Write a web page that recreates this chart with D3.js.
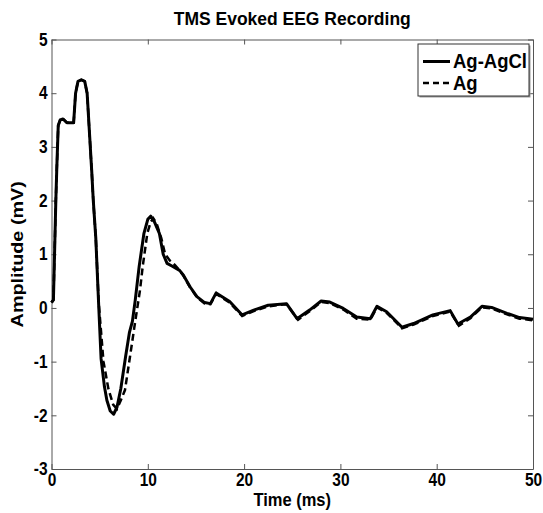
<!DOCTYPE html>
<html>
<head>
    <meta charset="utf-8">
    <title>TMS Evoked EEG Recording</title>
    <script src="https://d3js.org/d3.v7.min.js"></script>
    <style>
        body { margin: 0; background: #fff; }
        text { font-family: Arial, "Liberation Sans", sans-serif; font-weight: bold; }
        .axis path, .axis line { stroke: #555; }
        .axis text { font-size: 15.5px; fill: #000; }
    </style>
</head>
<body>
    <div id="container"></div>

    <script>
        // Ag-AgCl electrode (solid)
        var agAgClTime = [0, 0.2, 0.45, 0.55, 0.7, 0.9, 1.2, 1.6, 2.0, 2.3, 2.5, 2.75, 3.1, 3.45, 3.7, 4.17, 4.34, 4.6, 4.9,
            5.15, 5.5, 5.75, 6.1, 6.45, 6.8, 7.2, 7.7, 8.1, 8.4, 8.7, 9.1, 9.6, 10.0, 10.3, 10.7, 11.2, 11.6, 12.0, 12.5,
            13.3, 13.7, 14.4, 15.1, 15.9, 16.5, 17.1, 17.8, 18.5, 19.8, 21.0, 22.5, 24.4, 25.5, 26.8, 28.0, 28.9, 30.3,
            31.7, 33.1, 33.8, 34.8, 36.4, 37.6, 39.6, 41.4, 42.2, 43.5, 44.7, 45.7, 47.3, 48.6, 50];
        var agAgClAmp = [0.1, 0.15, 2.0, 2.6, 3.4, 3.5, 3.52, 3.45, 3.45, 3.45, 4.0, 4.22, 4.25, 4.22, 4.0, 2.57, 2.0, 1.3, 0.05,
            -0.95, -1.47, -1.72, -1.92, -1.98, -1.85, -1.5, -0.9, -0.45, -0.25, 0.15, 0.77, 1.39, 1.65, 1.71, 1.6, 1.39, 1.0, 0.83, 0.78,
            0.7, 0.61, 0.39, 0.21, 0.1, 0.08, 0.28, 0.2, 0.12, -0.13, -0.04, 0.05, 0.08, -0.2, -0.04, 0.13, 0.11, -0.01,
            -0.17, -0.2, 0.03, -0.07, -0.36, -0.29, -0.13, -0.05, -0.3, -0.17, 0.03, 0.01, -0.1, -0.18, -0.21];

        // Ag electrode (dashed)
        var agTime = [0, 0.2, 0.45, 0.55, 0.7, 0.9, 1.2, 1.6, 2.0, 2.3, 2.5, 2.75, 3.1, 3.45, 3.7, 4.17, 4.34, 4.6, 4.9,
            5.4, 5.9, 6.4, 6.8, 7.2, 7.63, 8.15, 8.67, 9.19, 9.47, 9.95, 10.3, 10.57, 10.9, 11.4, 11.8, 12.3, 12.8,
            13.3, 13.7, 14.4, 15.1, 15.9, 16.5, 17.1, 17.8, 18.5, 19.8, 21.0, 22.5, 24.4, 25.6, 26.8, 28.0, 28.9, 30.3,
            31.7, 33.1, 33.8, 34.8, 36.4, 37.6, 39.6, 41.4, 42.3, 43.5, 44.7, 45.7, 47.3, 48.6, 50];
        var agAmp = [0.1, 0.15, 2.0, 2.6, 3.4, 3.5, 3.52, 3.45, 3.45, 3.45, 4.0, 4.22, 4.25, 4.22, 4.0, 2.57, 2.0, 1.3, 0.1,
            -1.0, -1.5, -1.8, -1.88, -1.72, -1.53, -0.91, -0.28, 0.33, 0.77, 1.39, 1.6, 1.67, 1.58, 1.3, 1.0, 0.88, 0.8,
            0.7, 0.6, 0.38, 0.2, 0.08, 0.07, 0.26, 0.18, 0.1, -0.15, -0.06, 0.03, 0.07, -0.22, -0.06, 0.11, 0.09, -0.03,
            -0.2, -0.22, 0.01, -0.09, -0.38, -0.31, -0.15, -0.07, -0.33, -0.19, 0.01, -0.01, -0.12, -0.2, -0.23];

        var xTicks = [0, 10, 20, 30, 40, 50];
        var yTicks = [-3, -2, -1, 0, 1, 2, 3, 4, 5];
        var legendLabels = ["Ag-AgCl", "Ag"];

        var width = 543, height = 513;
        var margin = {top: 39.5, right: 10, bottom: 44, left: 51.5};
        var stretch = 1.15; // the original figure is a bit taller than wide, text looks squeezed

        var svg = d3.select("#container").append("svg")
            .attr("width", width)
            .attr("height", height);

        var x = d3.scaleLinear().domain([0, 50]).range([margin.left, width - margin.right]);
        var y = d3.scaleLinear().domain([-3, 5]).range([height - margin.bottom, margin.top]);

        var fmt = function(d) { return String(d); }; // plain hyphen minus like matlab

        // box with inward ticks on all four sides
        svg.append("g").attr("class", "axis")
            .attr("transform", "translate(0," + (height - margin.bottom) + ")")
            .call(d3.axisBottom(x).tickValues(xTicks).tickFormat(fmt).tickSizeInner(-5).tickSizeOuter(0).tickPadding(4))
            .selectAll("text").attr("transform", "scale(1," + stretch + ")");
        svg.append("g").attr("class", "axis")
            .attr("transform", "translate(0," + margin.top + ")")
            .call(d3.axisTop(x).tickValues(xTicks).tickSizeInner(-5).tickSizeOuter(0).tickFormat(""));
        svg.append("g").attr("class", "axis")
            .attr("transform", "translate(" + margin.left + ",0)")
            .call(d3.axisLeft(y).tickValues(yTicks).tickFormat(fmt).tickSizeInner(-5).tickSizeOuter(0).tickPadding(4))
            .selectAll("text").attr("transform", "scale(1," + stretch + ")");
        svg.append("g").attr("class", "axis")
            .attr("transform", "translate(" + (width - margin.right) + ",0)")
            .call(d3.axisRight(y).tickValues(yTicks).tickSizeInner(-5).tickSizeOuter(0).tickFormat(""));

        var line = d3.line()
            .x(function(d) { return x(d[0]); })
            .y(function(d) { return y(d[1]); });

        svg.append("path")
            .datum(d3.zip(agTime, agAmp))
            .attr("fill", "none")
            .attr("stroke", "#000")
            .attr("stroke-width", 2.5)
            .attr("stroke-dasharray", "7,4")
            .attr("d", line);

        svg.append("path")
            .datum(d3.zip(agAgClTime, agAgClAmp))
            .attr("fill", "none")
            .attr("stroke", "#000")
            .attr("stroke-width", 3)
            .attr("stroke-linejoin", "round")
            .attr("d", line);

        // title and axis labels
        var midX = (margin.left + width - margin.right) / 2;
        svg.append("text")
            .attr("transform", "translate(" + midX + ",25) scale(1,1.1)")
            .attr("text-anchor", "middle")
            .style("font-size", "17.5px")
            .text("TMS Evoked EEG Recording");

        svg.append("text")
            .attr("transform", "translate(" + midX + ",506) scale(1,1.15)")
            .attr("text-anchor", "middle")
            .style("font-size", "16.5px")
            .text("Time (ms)");

        svg.append("text")
            .attr("transform", "translate(23," + (margin.top + height - margin.bottom) / 2 + ") rotate(-90) scale(1.2,1)")
            .attr("text-anchor", "middle")
            .style("font-size", "16.5px")
            .text("Amplitude (mV)");

        // legend
        var lg = svg.append("g").attr("transform", "translate(418,44)");
        lg.append("rect").attr("x", 1.5).attr("y", 1.5).attr("width", 111).attr("height", 52)
            .attr("fill", "#999");
        lg.append("rect").attr("width", 111).attr("height", 52)
            .attr("fill", "#fff").attr("stroke", "#333").attr("stroke-width", 1);
        legendLabels.forEach(function(name, i) {
            var ly = 17.5 + i * 21.5;
            lg.append("line")
                .attr("x1", 5).attr("x2", 32).attr("y1", ly).attr("y2", ly)
                .attr("stroke", "#000")
                .attr("stroke-width", i === 0 ? 3 : 2.5)
                .attr("stroke-dasharray", i === 0 ? null : "6,4");
            lg.append("text")
                .attr("transform", "translate(35," + (ly + 6.5) + ") scale(1,1.05)")
                .style("font-size", "18.5px")
                .text(name);
        });
    </script>
</body>
</html>
